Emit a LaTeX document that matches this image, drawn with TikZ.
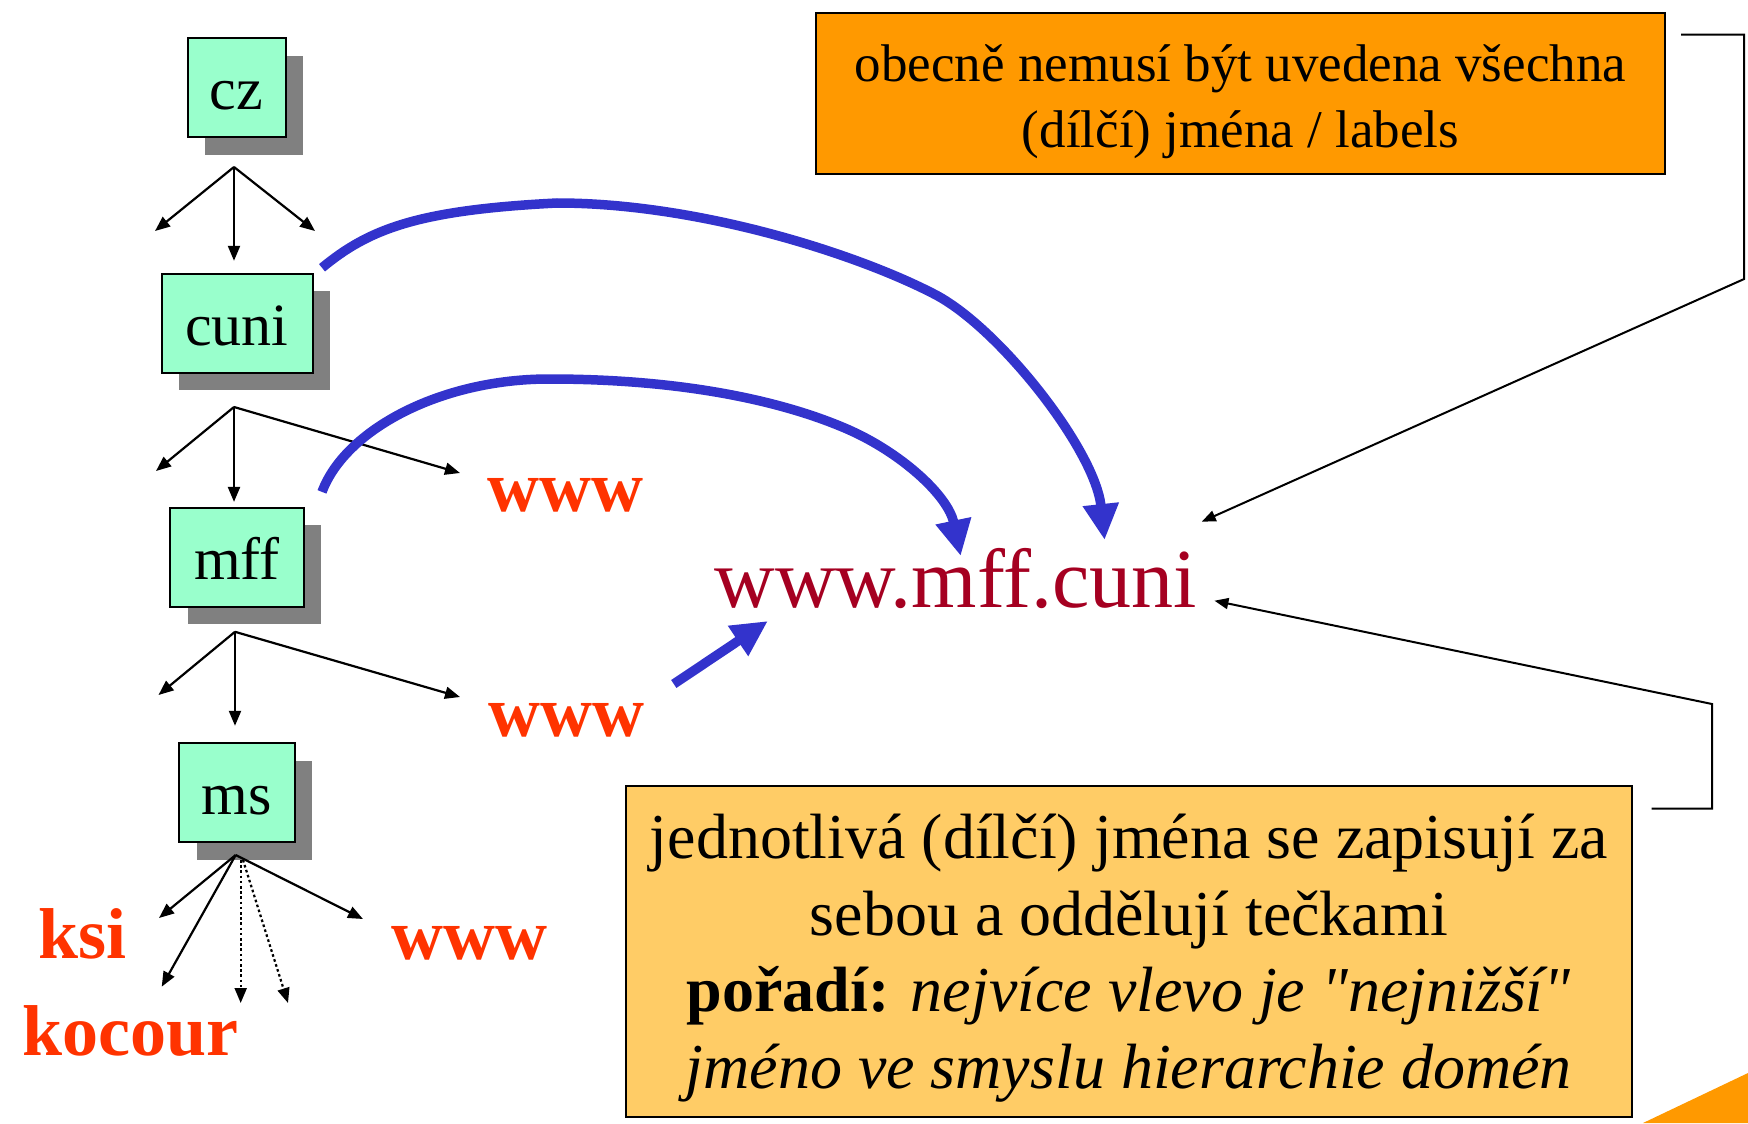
\documentclass[tikz,border=0pt]{standalone}
\usepackage{fontspec}
\setmainfont{Liberation Serif}[Ligatures=TeXOff]
\usetikzlibrary{arrows.meta,calc,shadows}
\definecolor{nodegreen}{HTML}{99FFCC}
\definecolor{shadowgray}{HTML}{808080}
\definecolor{blueArrCol}{HTML}{3333CC}
\definecolor{urlred}{HTML}{A50021}
\definecolor{labred}{HTML}{FF3300}
\definecolor{boxorange}{HTML}{FF9900}
\definecolor{boxlight}{HTML}{FFCC66}
\tikzset{
  dombox/.style={draw=black, line width=1pt, fill=nodegreen, inner sep=0pt,
    minimum height=49.5pt, text height=22pt, text depth=0pt,
    font=\fontsize{30}{36}\selectfont,
    drop shadow={shadow xshift=8.75pt, shadow yshift=-8.75pt, fill=shadowgray, opacity=1}},
  redlab/.style={text=labred, inner sep=0pt, anchor=base west,
    font=\bfseries\fontsize{36}{40}\selectfont},
  forkarrow/.style={draw=black, line width=1.1pt, -{Triangle[length=7.5pt,width=6pt]}},
  dotarrow/.style={forkarrow, dash pattern=on 1.3pt off 1.3pt},
  thinarrow/.style={draw=black, line width=1pt, -{Triangle[length=7pt,width=5.5pt]}},
  bluearrow/.style={draw=blueArrCol, line width=4.75pt, -{Triangle[length=18pt,width=17pt]}},
  notebox/.style={draw=black, line width=1pt, inner sep=0pt},
  notetext/.style={inner sep=0pt, align=center}
}
\begin{document}
\begin{tikzpicture}[x=0.5pt,y=-0.5pt]
\useasboundingbox (0,0) rectangle (1748,1123);
% corner decoration
\fill[boxorange] (1643,1123) -- (1748,1073) -- (1748,1123) -- cycle;

% domain boxes
\node[dombox, minimum width=49pt]   (cz)   at (236.6,88)    {cz};
\node[dombox, minimum width=75.5pt] (cuni) at (237,323.3)   {cuni};
\node[dombox, minimum width=66.8pt] (mff)  at (236.8,557.4) {mff};
\node[dombox, minimum width=57.8pt] (ms)   at (236.8,792.8) {ms};

% red labels
\node[redlab] (www1) at (487,511) {www};
\node[redlab] (www2) at (488,736) {www};
\node[redlab] (www3) at (391.5,959) {www};
\node[redlab] (ksi) at (38,958.6) {ksi};
\node[redlab] (kocour) at (22,1055.5) {kocour};

% url
\node[text=urlred, inner sep=0pt, anchor=base west, font=\fontsize{42}{48}\selectfont]
  (url) at (714,607.7) {www.mff.cuni};

% note boxes
\node[notebox, fill=boxorange, minimum width=424.5pt, minimum height=80.75pt]
  (tbox) at (1240.5,93.3) {};
\node[notetext, font=\fontsize{26.5}{33}\selectfont] (tboxtxt) at ($(tbox.center)+(0,8)$)
  {obecně nemusí být uvedena všechna\\(dílčí) jména / labels};
\node[notebox, fill=boxlight, minimum width=503.2pt, minimum height=165.25pt]
  (bbox) at (1128.8,951.25) {};
\node[notetext, font=\fontsize{32}{38.3}\selectfont] (bboxtxt) at ($(bbox.center)+(0,7)$)
  {jednotlivá (dílčí) jména se zapisují za\\
   sebou a oddělují tečkami\\
   \textbf{pořadí:} \textit{nejvíce vlevo je "nejnižší"}\\
   \textit{jméno ve smyslu hierarchie domén}};

% fork points and free ends
\coordinate (f1) at (234,167);
\coordinate (f1l) at (155,231);
\coordinate (f1r) at (315,231);
\coordinate (f2) at (234,407);
\coordinate (f2l) at (156,471);
\coordinate (f2r) at (460,473);
\coordinate (f3) at (235,631.8);
\coordinate (f3l) at (158.5,695);
\coordinate (f3r) at (460,697);
\coordinate (f4) at (235.7,855);
\coordinate (f4ksi) at (159,918);
\coordinate (f4koc) at (161.7,986.7);
\coordinate (f4d1s) at (240.7,860);
\coordinate (f4d1) at (240.7,1003);
\coordinate (f4d2s) at (243,860);
\coordinate (f4d2) at (288,1003);
\coordinate (f4r) at (363,919);

\draw[forkarrow] (f1) -- (f1l);
\draw[forkarrow, shorten >=6pt] (f1) -- (f1 |- cuni.north);
\draw[forkarrow] (f1) -- (f1r);
\draw[forkarrow] (f2) -- (f2l);
\draw[forkarrow, shorten >=2.5pt] (f2) -- (f2 |- mff.north);
\draw[forkarrow] (f2) -- (f2r);
\draw[forkarrow] (f3) -- (f3l);
\draw[forkarrow, shorten >=8.25pt] (f3) -- (f3 |- ms.north);
\draw[forkarrow] (f3) -- (f3r);
\draw[forkarrow] (f4) -- (f4ksi);
\draw[forkarrow] (f4) -- (f4koc);
\draw[dotarrow] (f4d1s) -- (f4d1);
\draw[dotarrow] (f4d2s) -- (f4d2);
\draw[forkarrow] (f4) -- (f4r);

% blue arrows
\draw[bluearrow] ($(cuni.north east)+(8.5,-5)$)
  .. controls (370,228) and (420,210) .. (557,203)
  .. controls (700,203) and (860,255) .. (936,295)
  .. controls (1000,329) and (1095,450) .. ($(url.base west)+(390.6,-67.7)$);
\draw[bluearrow] ($(mff.north east)+(17.4,-15)$)
  .. controls (345,430) and (440,379) .. (549,379)
  .. controls (680,379) and (780,400) .. (847,429)
  .. controls (900,452) and (948,495) .. ($(url.base west)+(246.7,-51.7)$);
\draw[bluearrow] ($(www2.base east)+(29,-52)$) -- ($(url.base west)+(53.9,13.3)$);

% note connectors
\draw[thinarrow] ($(tbox.north east)+(15,23)$) -- ++(63,0) -- ++(0,244.5)
  -- ($(url.base east)+(4,-86)$);
\draw[thinarrow] ($(bbox.north east)+(18.5,23.6)$) -- ++(60.5,0) -- ++(0,-104.6)
  -- ($(url.base east)+(16.7,-7)$);
\end{tikzpicture}
\end{document}
